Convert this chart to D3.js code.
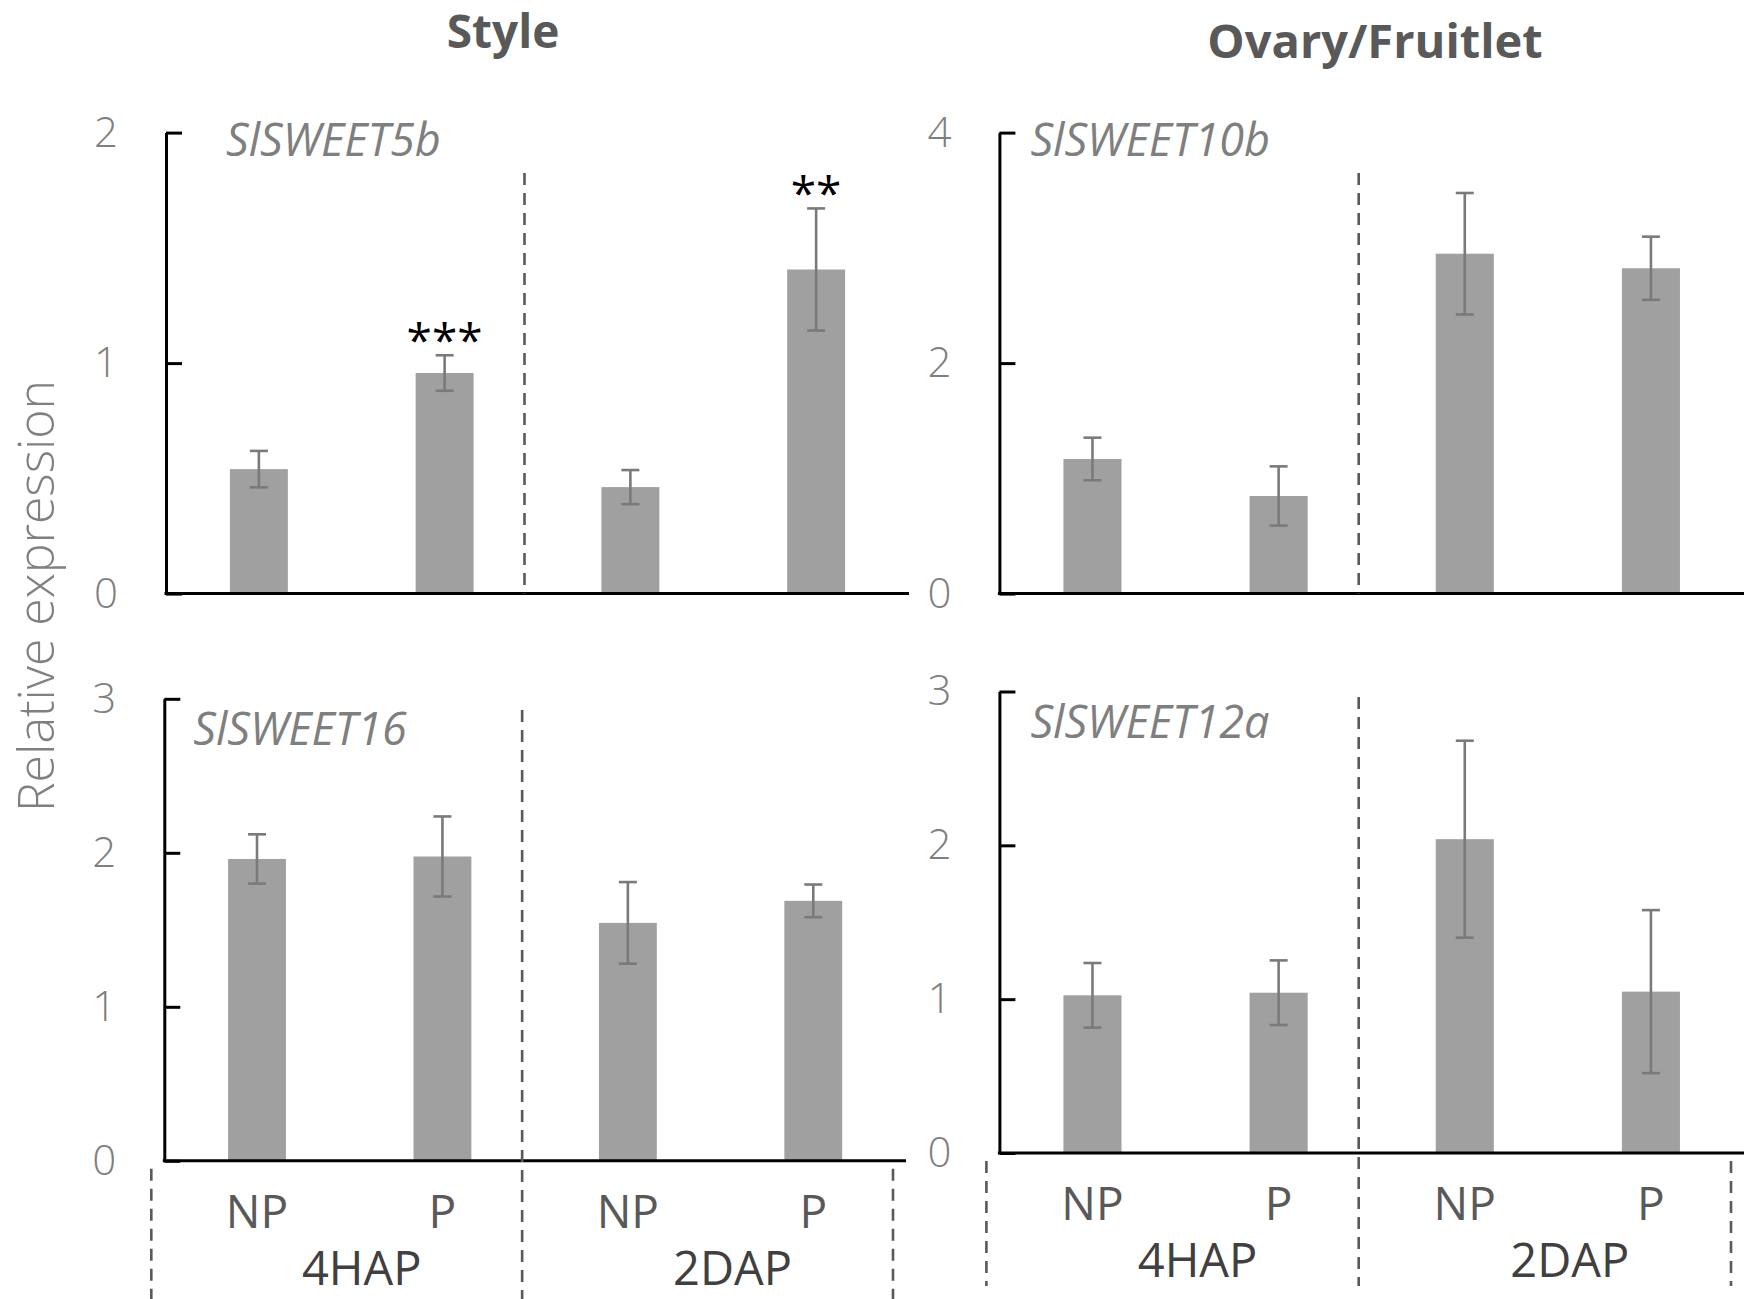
<!DOCTYPE html>
<html>
  <head>
    <meta charset="utf-8">
    <title>SlSWEET relative expression</title>
    <style>
      body { margin: 0; background: #fff; }
      text { font-family: "Open Sans", "Liberation Sans", sans-serif; }
    </style>
  </head>
  <body>
    <script src="https://d3js.org/d3.v7.min.js"></script>
    <svg id="chart" width="1746" height="1299"></svg>
    <script>
      // categories along every x axis
      const categories = ["NP", "P", "NP", "P"]
      const stages = ["4HAP", "2DAP"]
      const genes = ["SlSWEET5b", "SlSWEET10b", "SlSWEET16", "SlSWEET12a"]

      // bar heights and error bars
      const sweet5b = [0.54, 0.957, 0.462, 1.406]
      const sweet5bErr = [0.079, 0.077, 0.074, 0.265]
      const sweet5bSig = ["", "***", "", "**"]
      const sweet10b = [1.168, 0.847, 2.949, 2.823]
      const sweet10bErr = [0.185, 0.257, 0.527, 0.274]
      const sweet16 = [1.96, 1.976, 1.545, 1.688]
      const sweet16Err = [0.16, 0.26, 0.265, 0.106]
      const sweet12a = [1.025, 1.042, 2.04, 1.049]
      const sweet12aErr = [0.21, 0.21, 0.64, 0.53]

      // y axis maxima and tick steps, one per panel
      const yMax = [2, 4, 3, 3]
      const yStep = [1, 2, 1, 1]

      const means = [sweet5b, sweet10b, sweet16, sweet12a]
      const errs = [sweet5bErr, sweet10bErr, sweet16Err, sweet12aErr]
      const sigs = [sweet5bSig, null, null, null]

      // panel frames (pixels)
      const panels = [
        {x0: 166, x1: 909, top: 132.6, bottom: 593.6, lab: [60, 23], divTop: 173, bottomAxis: false},
        {x0: 999.4, x1: 1746, top: 132.6, bottom: 593.6, lab: [31, 23], divTop: 173, bottomAxis: false},
        {x0: 164.3, x1: 906, top: 698.8, bottom: 1160.8, lab: [29, 46], divTop: 710, bottomAxis: true, divEnd: 1299},
        {x0: 999.4, x1: 1746, top: 691.5, bottom: 1153, lab: [31, 46], divTop: 697, bottomAxis: true, divEnd: 1286}
      ]

      const svg = d3.select('#chart')

      const barColor = '#a0a0a0'
      const errColor = '#7a7a7a'
      const tickColor = '#7f7f7f'
      const dashColor = '#595959'

      panels.forEach((p, i) => {
        let g = svg.append('g')
        let xEnd = Math.min(p.x1, 1744)
        let x = d3.scaleBand()
          .domain(d3.range(categories.length))
          .range([p.x0, xEnd])
          .paddingInner(0.688)
          .paddingOuter(0.344)
        let step = x.step()
        let y = d3.scaleLinear().domain([0, yMax[i]]).range([p.bottom, p.top])

        // bars
        g.selectAll('rect.bar')
          .data(means[i])
          .join('rect')
          .attr('class', 'bar')
          .attr('x', (d, j) => x(j))
          .attr('width', x.bandwidth())
          .attr('y', d => y(d))
          .attr('height', d => y(0) - y(d))
          .attr('fill', barColor)

        // error bars
        let eb = g.selectAll('g.err')
          .data(means[i].map((m, j) => ({m, e: errs[i][j], j})))
          .join('g')
          .attr('class', 'err')
          .attr('stroke', errColor)
          .attr('stroke-width', 2.6)
        eb.append('line')
          .attr('x1', d => x(d.j) + x.bandwidth() / 2)
          .attr('x2', d => x(d.j) + x.bandwidth() / 2)
          .attr('y1', d => y(d.m - d.e))
          .attr('y2', d => y(d.m + d.e))
        eb.selectAll('line.cap')
          .data(d => [d.m - d.e, d.m + d.e].map(v => ({v, j: d.j})))
          .join('line')
          .attr('class', 'cap')
          .attr('x1', d => x(d.j) + x.bandwidth() / 2 - 9)
          .attr('x2', d => x(d.j) + x.bandwidth() / 2 + 9)
          .attr('y1', d => y(d.v))
          .attr('y2', d => y(d.v))

        // significance stars
        if (sigs[i]) {
          g.selectAll('text.sig')
            .data(sigs[i])
            .join('text')
            .attr('class', 'sig')
            .attr('x', (d, j) => x(j) + x.bandwidth() / 2)
            .attr('y', (d, j) => y(means[i][j] + errs[i][j]) + 2)
            .attr('text-anchor', 'middle')
            .attr('font-size', 46)
            .attr('fill', '#000')
            .text(d => d)
        }

        // y axis, ticks pointing inwards
        let yAxis = d3.axisLeft(y)
          .tickValues(d3.range(0, yMax[i] + 0.001, yStep[i]))
          .tickSizeInner(-16)
          .tickSizeOuter(0)
          .tickPadding(48)
          .tickFormat(d3.format('d'))
        let ya = g.append('g')
          .attr('transform', `translate(${p.x0},0)`)
          .call(yAxis)
        ya.select('.domain').attr('stroke', '#000').attr('stroke-width', 3)
        ya.selectAll('.tick line').attr('stroke', '#000').attr('stroke-width', 3)
        ya.selectAll('.tick text')
          .attr('font-family', '"Open Sans", sans-serif')
          .attr('font-size', 42)
          .attr('font-weight', 300)
          .attr('fill', tickColor)

        // x axis line
        g.append('line')
          .attr('x1', p.x0 - 1.5)
          .attr('x2', xEnd)
          .attr('y1', y(0))
          .attr('y2', y(0))
          .attr('stroke', '#000')
          .attr('stroke-width', 3)

        // gene name
        g.append('text')
          .attr('x', p.x0 + p.lab[0])
          .attr('y', p.top + p.lab[1])
          .attr('font-size', 45)
          .attr('font-style', 'italic')
          .attr('font-weight', 400)
          .attr('fill', tickColor)
          .text(genes[i])

        // group separators (dashed)
        let sep = k => p.x0 + k * 2 * step - 13
        g.append('line')
          .attr('x1', sep(1)).attr('x2', sep(1))
          .attr('y1', p.divTop)
          .attr('y2', p.bottomAxis ? p.divEnd : y(0))
          .attr('stroke', dashColor)
          .attr('stroke-width', 2.6)
          .attr('stroke-dasharray', '12,8')

        if (p.bottomAxis) {
          [0, 2].forEach(k => {
            g.append('line')
              .attr('x1', sep(k)).attr('x2', sep(k))
              .attr('y1', y(0) + 8)
              .attr('y2', p.divEnd)
              .attr('stroke', dashColor)
              .attr('stroke-width', 2.6)
              .attr('stroke-dasharray', '12,8')
          })

          // category labels
          g.selectAll('text.cat')
            .data(categories)
            .join('text')
            .attr('class', 'cat')
            .attr('x', (d, j) => x(j) + x.bandwidth() / 2)
            .attr('y', y(0) + 67)
            .attr('text-anchor', 'middle')
            .attr('font-size', 46)
            .attr('fill', '#595959')
            .text(d => d)

          // stage labels
          g.selectAll('text.stage')
            .data(stages)
            .join('text')
            .attr('class', 'stage')
            .attr('x', (d, k) => p.x0 + (2 * k + 1) * step + 12)
            .attr('y', y(0) + 124)
            .attr('text-anchor', 'middle')
            .attr('font-size', 47)
            .attr('fill', '#404040')
            .text(d => d)
        }
      })

      // column titles
      svg.append('text')
        .attr('x', 503)
        .attr('y', 48)
        .attr('text-anchor', 'middle')
        .attr('font-size', 46)
        .attr('font-weight', 700)
        .attr('fill', '#595959')
        .text('Style')

      svg.append('text')
        .attr('x', 1375)
        .attr('y', 58)
        .attr('text-anchor', 'middle')
        .attr('font-size', 47)
        .attr('font-weight', 700)
        .attr('fill', '#595959')
        .text('Ovary/Fruitlet')

      // shared y title
      svg.append('text')
        .attr('transform', 'translate(54,596) rotate(-90)')
        .attr('text-anchor', 'middle')
        .attr('font-size', 50)
        .attr('font-weight', 300)
        .attr('fill', '#808080')
        .text('Relative expression')
    </script>
  </body>
</html>
